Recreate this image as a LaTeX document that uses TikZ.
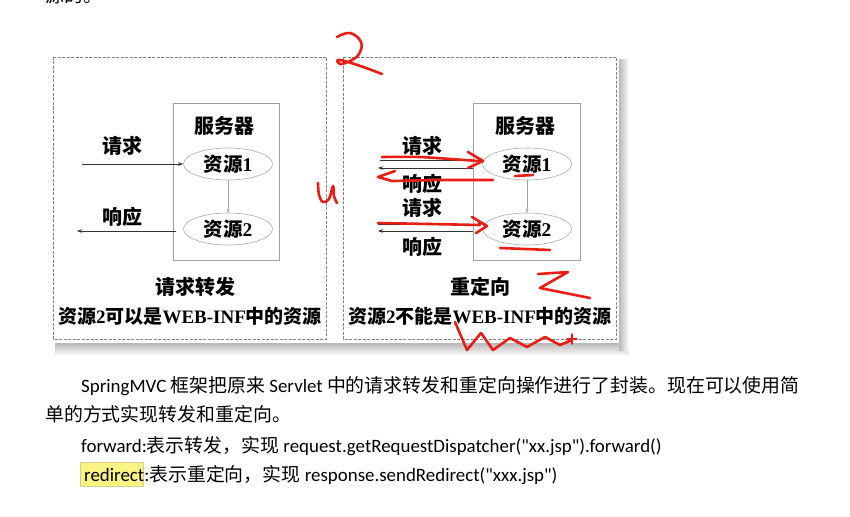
\documentclass[tikz,border=0pt]{standalone}
\usepackage{fontspec}
\setmainfont{Liberation Serif}
\newfontfamily\cjk{Noto Sans CJK SC}
\newfontfamily\calfont{Carlito}
\usetikzlibrary{arrows.meta,shapes.geometric}
\newcommand\Z[1]{{\cjk #1}}
\definecolor{pen}{RGB}{232,30,20}
\definecolor{hl}{RGB}{250,244,130}
\definecolor{dashc}{RGB}{130,130,130}
\begin{document}
\begin{tikzpicture}[x=1pt,y=-1pt,
  panel/.style={draw=dashc, dash pattern=on 3pt off 1.5pt, line width=0.9pt},
  srv/.style={draw=gray!75, line width=0.8pt},
  res/.style={ellipse, draw=gray!65, line width=0.6pt, minimum width=89pt, minimum height=32pt, inner sep=0pt,
    font=\bfseries\fontsize{19.5}{19.5}\selectfont},
  lbl/.style={font=\bfseries\fontsize{20}{20}\selectfont, inner sep=0pt},
  sub/.style={font=\bfseries\fontsize{19}{19}\selectfont, inner sep=0pt},
  arr/.style={-{Stealth[length=5pt,width=3.5pt]}, line width=0.6pt, draw=black!80},
  arrg/.style={-{Stealth[length=4pt,width=3pt]}, line width=0.5pt, draw=gray!70},
  btxt/.style={font=\calfont\fontsize{18.9}{18.9}\selectfont, inner sep=0pt},
  redpen/.style={draw=pen, line width=2.6pt, line cap=round, line join=round}]
\clip (0,0) rectangle (850,516);
\fill[white] (0,0) rectangle (850,516);

% cut-off top text
\node[btxt, anchor=base west] (top) at (45,3) {\Z{源的。}};

% shadows
\shade[top color=gray!55, bottom color=white] (55,343) rectangle (629,356);
\shade[left color=gray!55, right color=white] (619,60) rectangle (629,350);

% panels
\draw[panel] (53,57) rectangle (326,339);
\draw[panel] (343,57) rectangle (616,339);

% ---------- left panel: forward ----------
\draw[srv] (173,103) rectangle (279,260);
\node[lbl] (srvL) at (224,126) {\Z{服务器}};
\node[res] (L1) at (228,164) {\Z{资源}1};
\node[res] (L2) at (228,229) {\Z{资源}2};
\draw[arrg] (L1) -- (L2);
\coordinate (lq) at (82,164);
\coordinate (lr) at (176,231);
\coordinate (lre) at (77,231);
\draw[arr] (lq) -- (L1.west);
\draw[arr] (lr) -- (lre);
\node[lbl] (lql) at (122,146) {\Z{请求}};
\node[lbl] (lrl) at (122,217) {\Z{响应}};
\node[lbl] (lt) at (195,287) {\Z{请求转发}};
\node[sub] (ls) at (190,316) {\Z{资源}2\Z{可以是}WEB-INF\Z{中的资源}};

% ---------- right panel: redirect ----------
\draw[srv] (473,103) rectangle (580,260);
\node[lbl] (srvR) at (525,126) {\Z{服务器}};
\node[res] (R1) at (527,164) {\Z{资源}1};
\node[res] (R2) at (527,229) {\Z{资源}2};
\draw[arrg] (R1) -- (R2);
\coordinate (rq1) at (380,160);
\coordinate (rr1) at (473,168);
\coordinate (rr1e) at (378,168);
\coordinate (rq2) at (378,224);
\coordinate (rr2) at (473,231);
\coordinate (rr2e) at (378,231);
\draw[arr] (rq1) -- (rq1 -| R1.west);
\draw[arr] (rr1) -- (rr1e);
\draw[arr] (rq2) -- (rq2 -| R2.west);
\draw[arr] (rr2) -- (rr2e);
\node[lbl] (rql1) at (422,146) {\Z{请求}};
\node[lbl] (rrl1) at (422,184) {\Z{响应}};
\node[lbl] (rql2) at (422,208) {\Z{请求}};
\node[lbl] (rrl2) at (422,247) {\Z{响应}};
\node[lbl] (rt) at (480,287) {\Z{重定向}};
\node[sub] (rs) at (480,316) {\Z{资源}2\Z{不能是}WEB-INF\Z{中的资源}};

% ---------- red handwriting ----------
\draw[redpen] plot[smooth, tension=0.7] coordinates {(337,37) (350,33) (361,42) (359,54) (350,61) (340,64) (338,60) (348,62) (366,68) (382,74)};
\draw[redpen] plot[smooth, tension=0.6] coordinates {(318,183) (319,195) (323,202) (329,199) (333,186) (334,196) (337,203)};
\draw[redpen] plot[smooth, tension=0.4] coordinates {(382,157) (420,157) (478,161)};
\draw[redpen] (468,152) -- (483,161) -- (468,168);
\draw[redpen] (395,171) -- (378,177) -- (392,181) -- (440,180) -- (493,180);
\draw[redpen] (378,223) -- (480,225);
\draw[redpen] (472,217) -- (487,226) -- (476,233);
\draw[redpen] (515,176) -- (533,175);
\draw[redpen] (500,248) -- (550,250);
\draw[redpen] (538,274) -- (568,272) -- (540,288) -- (590,298);
\draw[redpen] (455,322) -- (467,350) -- (481,333) -- (493,350) -- (510,338) -- (527,347) -- (545,337) -- (560,345) -- (572,340);
\draw[redpen, line width=1.5pt] (567,339) -- (577,339) (572,334) -- (572,344);

% ---------- bottom text ----------
\node[btxt, anchor=base west] (t1) at (81,392) {SpringMVC \Z{框架把原来} Servlet \Z{中的请求转发和重定向操作进行了封装。现在可以使用简}};
\node[btxt, anchor=base west] (t2) at (45,421) {\Z{单的方式实现转发和重定向。}};
\node[btxt, anchor=base west] (t3) at (81,452) {forward:\Z{表示转发，实现} request.getRequestDispatcher("xx.jsp").forward()};
\fill[hl] (80,462) rectangle (143,486);
\draw[yellow!60!black!50, line width=0.5pt] (80,462) rectangle (143,486);
\node[btxt, anchor=base west] (t4) at (84,481) {redirect:\Z{表示重定向，实现} response.sendRedirect("xxx.jsp")};
\end{tikzpicture}
\end{document}
